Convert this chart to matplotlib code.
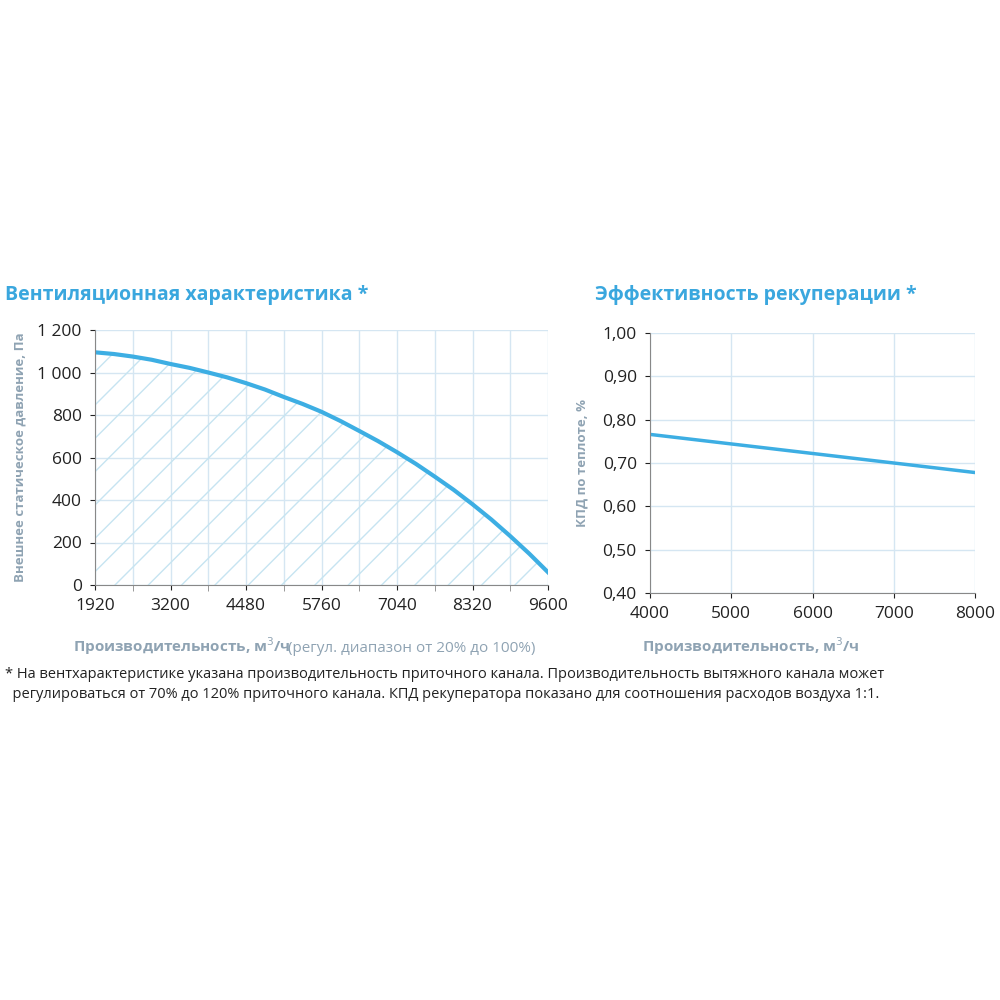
import matplotlib
matplotlib.use("Agg")
import matplotlib.pyplot as plt

plt.rcParams["font.family"] = "Open Sans"

flow = [1920, 2240, 2560, 2880, 3200, 3520, 3840, 4160, 4480, 4800, 5120, 5440,
        5760, 6080, 6400, 6720, 7040, 7360, 7680, 8000, 8320, 8640, 8960, 9280, 9600]
pressure = [1095, 1087, 1075, 1060, 1040, 1022, 1000, 977, 950, 920, 885, 852,
            815, 772, 725, 677, 625, 570, 510, 448, 380, 308, 230, 148, 60]
flow_ticks = [1920, 3200, 4480, 5760, 7040, 8320, 9600]

rec_flow = [4000, 5000, 6000, 7000, 8000]
efficiency = [0.766, 0.744, 0.722, 0.700, 0.678]

blue = "#3daee3"
title_blue = "#3aa7de"
grid = "#d5e6f2"
label_grey = "#8fa3b3"

fig = plt.figure(figsize=(10, 10), dpi=100)

# left: fan curve
ax = fig.add_axes([0.095, 0.415, 0.453, 0.255])
ax.fill_between(flow, pressure, 0, facecolor="none", edgecolor="#c6e4f1",
                hatch="/", linewidth=0)
ax.plot(flow, pressure, color=blue, lw=3)
ax.set_xlim(1920, 9600)
ax.set_ylim(0, 1200)
ax.set_xticks(flow_ticks)
ax.set_xticks(range(1920, 9601, 640), minor=True)
ax.set_yticks(range(0, 1201, 200))
ax.set_yticklabels(["0", "200", "400", "600", "800", "1 000", "1 200"])
ax.grid(True, which="both", color=grid, lw=1)
ax.set_axisbelow(True)
for s in ["top", "right"]:
    ax.spines[s].set_visible(False)
ax.spines["left"].set_color("#888888")
ax.spines["bottom"].set_color("#888888")
ax.tick_params(labelsize=12.5, colors="#222222", pad=6)
ax.tick_params(which="minor", length=4, color="#888888")
ax.set_ylabel("Внешнее статическое давление, Па", fontsize=9.5,
              color=label_grey, fontweight="bold", labelpad=8)
fig.text(0.073, 0.348, "Производительность, м$^3$/ч", fontsize=11,
         color=label_grey, fontweight="bold")
fig.text(0.288, 0.348, "(регул. диапазон от 20% до 100%)", fontsize=11,
         color=label_grey)
fig.text(0.005, 0.7, "Вентиляционная характеристика *", fontsize=14,
         color=title_blue, fontweight="bold")

# right: heat recovery efficiency
ax2 = fig.add_axes([0.65, 0.407, 0.325, 0.26])
ax2.plot(rec_flow, efficiency, color=blue, lw=2.5)
ax2.set_xlim(4000, 8000)
ax2.set_ylim(0.4, 1.0)
ax2.set_xticks(rec_flow)
ax2.set_yticks([0.4, 0.5, 0.6, 0.7, 0.8, 0.9, 1.0])
ax2.set_yticklabels(["0,40", "0,50", "0,60", "0,70", "0,80", "0,90", "1,00"])
ax2.grid(True, color=grid, lw=1)
ax2.set_axisbelow(True)
for s in ["top", "right"]:
    ax2.spines[s].set_visible(False)
ax2.spines["left"].set_color("#888888")
ax2.spines["bottom"].set_color("#888888")
ax2.tick_params(labelsize=12.5, colors="#222222", pad=6)
ax2.set_ylabel("КПД по теплоте, %", fontsize=9.5, color=label_grey,
               fontweight="bold", labelpad=10)
fig.text(0.642, 0.348, "Производительность, м$^3$/ч", fontsize=11,
         color=label_grey, fontweight="bold")
fig.text(0.595, 0.7, "Эффективность рекуперации *", fontsize=14,
         color=title_blue, fontweight="bold")

fig.text(0.005, 0.298,
         "* На вентхарактеристике указана производительность приточного канала. "
         "Производительность вытяжного канала может\n"
         "  регулироваться от 70% до 120% приточного канала. КПД рекуператора "
         "показано для соотношения расходов воздуха 1:1.",
         fontsize=10.5, color="#222222", va="bottom", linespacing=1.5)

fig.savefig("out.png", dpi=100, facecolor="white")
